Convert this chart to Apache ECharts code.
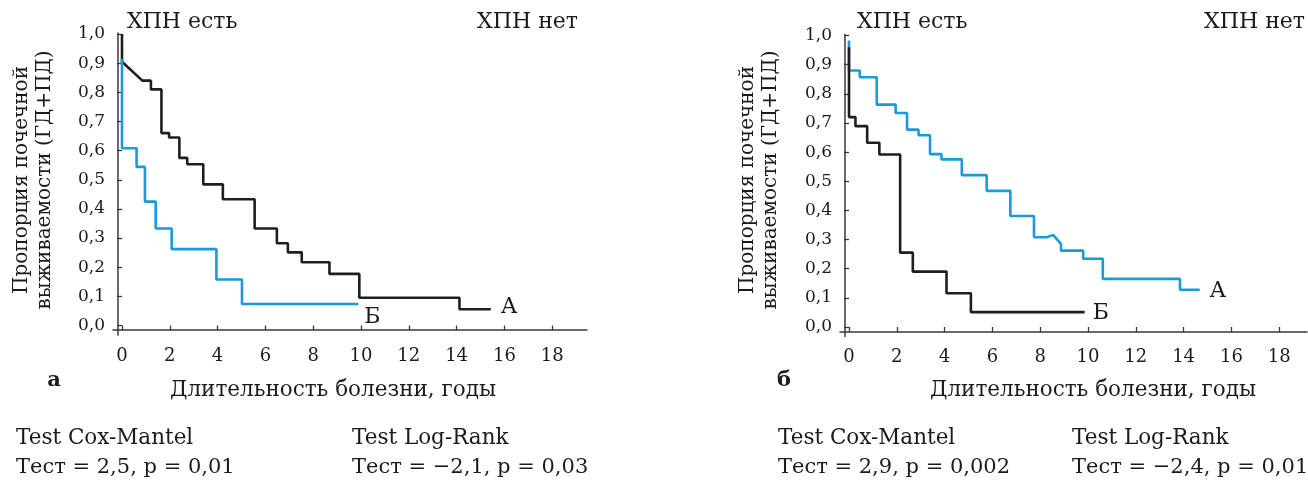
<!DOCTYPE html>
<html>
<head>
<meta charset="utf-8">
<script src="https://cdn.jsdelivr.net/npm/echarts@6/dist/echarts.min.js"></script>
<style>html,body{margin:0;padding:0;background:#fff}#c{width:1308px;height:480px}</style>
</head>
<body>
<div id="c"></div>
<script>
// ---------- data (years, survival proportion) ----------
// Panel а
const aBlackT = [0, 0, 0.85, 1.21, 1.65, 1.97, 2.40, 2.73, 3.40, 4.22, 5.55, 6.48, 6.94, 7.52, 8.68, 9.93, 14.12, 15.43];
const aBlackS = [1.00, 0.905, 0.84, 0.81, 0.66, 0.645, 0.575, 0.553, 0.484, 0.433, 0.333, 0.282, 0.251, 0.217, 0.177, 0.095, 0.056, 0.056];
const aBlackDiag = [2];
const aBlueT = [0, 0, 0.61, 0.96, 1.41, 2.08, 3.95, 5.02, 9.89];
const aBlueS = [0.915, 0.608, 0.544, 0.425, 0.333, 0.262, 0.158, 0.074, 0.074];
const aBlueDiag = [];
// Panel б
const bBlueT = [0, 0, 0.45, 1.16, 1.95, 2.43, 2.91, 3.39, 3.87, 4.72, 5.76, 6.75, 7.74, 8.27, 8.54, 8.87, 8.87, 9.80, 10.62, 13.85, 14.67];
const bBlueS = [0.983, 0.88, 0.857, 0.763, 0.734, 0.677, 0.658, 0.593, 0.575, 0.521, 0.467, 0.381, 0.308, 0.308, 0.316, 0.285, 0.262, 0.234, 0.165, 0.128, 0.128];
const bBlueDiag = [14, 15];
const bBlackT = [0, 0, 0.27, 0.76, 1.27, 2.14, 2.67, 4.08, 5.10, 9.86];
const bBlackS = [0.96, 0.72, 0.689, 0.632, 0.592, 0.255, 0.19, 0.116, 0.051, 0.051];
const bBlackDiag = [];

const curveLabels = ['А', 'Б'];
const groupTop = ['ХПН есть', 'ХПН нет'];
const xTitle = 'Длительность болезни, годы';
const yTitle = ['Пропорция почечной', 'выживаемости (ГД+ПД)'];
const panelLetters = ['а', 'б'];
const testsA = ['Test Cox-Mantel', 'Тест = 2,5, р = 0,01', 'Test Log-Rank', 'Тест = −2,1, р = 0,03'];
const testsB = ['Test Cox-Mantel', 'Тест = 2,9, р = 0,002', 'Test Log-Rank', 'Тест = −2,4, р = 0,01'];

// ---------- helpers ----------
function km(t, s, diag) {
  const pts = [[t[0], s[0]]];
  for (let i = 1; i < t.length; i++) {
    if (diag.indexOf(i) < 0) pts.push([t[i], s[i - 1]]);
    pts.push([t[i], s[i]]);
  }
  return pts;
}
const FONT = 'DejaVu Serif';
const INK = '#1c1a1b';
const BLACK = '#1e1e1e';
const BLUE = '#1a9ad7';

const panels = [
  {ax: 118, ay: 330, b0x: 122, b1y: 34, b0y: 325.5, right: 587},
  {ax: 845, ay: 331.5, b0x: 849, b1y: 35.5, b0y: 327, right: 1307}
];
const PXYR = 23.9;

const grid = [], xAxis = [], yAxis = [];
panels.forEach((p, i) => {
  // line-only grid
  grid.push({left: p.ax - 5, top: p.b1y - 1, width: p.right - (p.ax - 5), height: (p.ay + 5) - (p.b1y - 1)});
  xAxis.push({gridIndex: 2 * i, type: 'value', min: 0, max: 1, offset: -5,
    axisLine: {show: true, lineStyle: {color: '#3a3a3a', width: 1.5}}, axisTick: {show: false}, axisLabel: {show: false}, splitLine: {show: false}});
  yAxis.push({gridIndex: 2 * i, type: 'value', min: 0, max: 1, offset: -5,
    axisLine: {show: true, lineStyle: {color: '#3a3a3a', width: 1.5}}, axisTick: {show: false}, axisLabel: {show: false}, splitLine: {show: false}});
  // data grid
  grid.push({left: p.b0x, top: p.b1y, width: 18 * PXYR, height: p.b0y - p.b1y});
  xAxis.push({gridIndex: 2 * i + 1, type: 'value', min: 0, max: 18, interval: 2, offset: p.ay - p.b0y,
    axisLine: {show: false}, splitLine: {show: false},
    axisTick: {show: true, length: 5, lineStyle: {color: '#3a3a3a', width: 1.3}},
    axisLabel: {margin: 17, fontFamily: FONT, fontSize: 18, color: INK}});
  yAxis.push({gridIndex: 2 * i + 1, type: 'value', min: 0, max: 1, interval: 0.1, offset: p.b0x - p.ax,
    axisLine: {show: false}, splitLine: {show: false},
    axisTick: {show: true, length: 5, lineStyle: {color: '#3a3a3a', width: 1.3}},
    axisLabel: {margin: 13, fontFamily: FONT, fontSize: 17, color: INK,
      formatter: v => v.toFixed(1).replace('.', ',')}});
});

function line(idx, data, color, label, off, z) {
  return {type: 'line', xAxisIndex: idx, yAxisIndex: idx, data: data, showSymbol: false, symbol: 'none',
    lineStyle: {color: color, width: 2.6}, z: z, animation: false, silent: true,
    endLabel: {show: true, formatter: label, fontFamily: FONT, fontSize: 22, color: INK, distance: 8, offset: off}};
}
const series = [
  line(1, km(aBlackT, aBlackS, aBlackDiag), BLACK, curveLabels[0], [2, -2], 2),
  line(1, km(aBlueT, aBlueS, aBlueDiag), BLUE, curveLabels[1], [-2, 13], 3),
  line(3, km(bBlueT, bBlueS, bBlueDiag), BLUE, curveLabels[0], [2, 2], 2),
  line(3, km(bBlackT, bBlackS, bBlackDiag), BLACK, curveLabels[1], [0, 1], 3)
];

const graphic = [];
function txt(x, y, s, opt) {
  graphic.push({type: 'text', x: x, y: y, silent: true, rotation: opt.rot || 0,
    style: Object.assign({text: s, fontFamily: FONT, fontSize: 21, fill: INK, textAlign: 'left', textVerticalAlign: 'middle'}, opt.style || {})});
}
[0, 1].forEach(i => {
  const tests = i === 0 ? testsA : testsB;
  txt((i === 0 ? 127 : 857), 22, groupTop[0], {style: {fontSize: 22}});
  txt((i === 0 ? 578 : 1305), 22, groupTop[1], {style: {fontSize: 22, textAlign: 'right'}});
  txt((i === 0 ? 333 : 1093), 390, xTitle, {style: {fontSize: 21.5, textAlign: 'center'}});
  txt((i === 0 ? 22 : 748), 180, yTitle[0], {rot: Math.PI / 2, style: {fontSize: 20, textAlign: 'center'}});
  txt((i === 0 ? 45 : 771), 180, yTitle[1], {rot: Math.PI / 2, style: {fontSize: 20, textAlign: 'center'}});
  txt((i === 0 ? 54 : 784), 381, panelLetters[i], {style: {fontSize: 21, fontWeight: 'bold', textAlign: 'center'}});
  const bx = i === 0 ? 16 : 778, rx = i === 0 ? 352 : 1072;
  txt(bx, 438, tests[0], {style: {fontSize: 21.5}});
  txt(bx, 468, tests[1], {style: {fontSize: 21}});
  txt(rx, 438, tests[2], {style: {fontSize: 21.5}});
  txt(rx, 468, tests[3], {style: {fontSize: 21}});
});

const chart = echarts.init(document.getElementById('c'), null, {renderer: 'canvas'});
chart.setOption({animation: false, backgroundColor: '#fff', grid, xAxis, yAxis, series, graphic});
</script>
</body>
</html>
